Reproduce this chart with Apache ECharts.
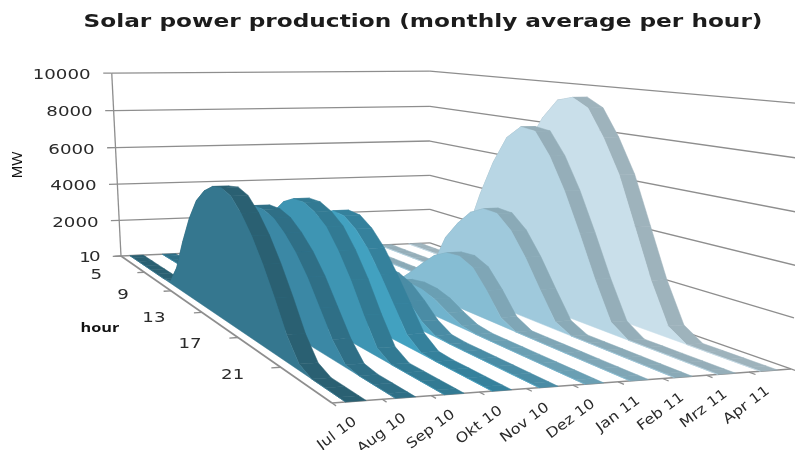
<!DOCTYPE html>
<html>
<head>
<meta charset="utf-8">
<style>html,body{margin:0;padding:0;background:#fff}#chart{width:795px;height:450px}</style>
<script src="https://cdn.jsdelivr.net/npm/echarts@6/dist/echarts.min.js"></script>
</head>
<body>
<div id="chart"></div>
<script>
// Hourly solar output in MW, monthly average, one list per month.
var hours = ['1','2','3','4','5','6','7','8','9','10','11','12','13','14','15','16','17','18','19','20','21','22','23','24'];
var months = ['Jul 10','Aug 10','Sep 10','Okt 10','Nov 10','Dez 10','Jan 11','Feb 11','Mrz 11','Apr 11'];
var valueTicks = [0,2000,4000,6000,8000,10000];
var hourTicks = ['1','5','9','13','17','21'];

var jul10 = [0,0,0,0,0,0,100,1000,2500,3800,4800,5400,5750,5850,5650,5100,4350,3400,2300,1100,250,0,0,0];
var aug10 = [0,0,0,0,0,0,20,1100,2300,3300,4100,4600,4850,4850,4650,4200,3600,2800,1800,800,100,0,0,0];
var sep10 = [0,0,0,0,0,0,0,500,1900,3200,4200,4800,5100,5100,4850,4400,3600,2600,1400,350,0,0,0,0];
var okt10 = [0,0,0,0,0,0,0,100,1200,2500,3500,4200,4500,4450,4050,3400,2500,1500,500,50,0,0,0,0];
var nov10 = [0,0,0,0,0,0,0,0,200,700,1200,1600,1800,1750,1500,1000,400,50,0,0,0,0,0,0];
var dez10 = [0,0,0,0,0,0,0,0,50,350,650,900,1000,950,750,400,100,0,0,0,0,0,0,0];
var jan11 = [0,0,0,0,0,0,0,0,150,750,1400,2000,2350,2400,2100,1300,350,0,0,0,0,0,0,0];
var feb11 = [0,0,0,0,0,0,0,50,900,2400,3300,4000,4350,4300,3700,2700,1500,350,0,0,0,0,0,0];
var mrz11 = [0,0,0,0,0,0,0,400,2500,4500,6200,7500,8100,8000,7000,5600,3900,2100,500,0,0,0,0,0];
var apr11 = [0,0,0,0,0,0,150,1400,3400,5400,7100,8400,9300,9500,9100,7900,6400,4300,2200,500,0,0,0,0];
var production = [jul10,aug10,sep10,okt10,nov10,dez10,jan11,feb11,mrz11,apr11];

var faceColors = ['#35778f','#3b88a5','#3e95b3','#42a1c0','#55abc8','#70b3cd','#86bdd3','#9fc9dc','#b8d6e4','#c9dfea'];
var bandColors = ['#2a6072','#2f6f86','#327a93','#35819c','#4a8ca5','#6a9fb3','#7fa6b6','#8aaab7','#95aeb9','#9eb3bc'];

// Perspective camera of the box: floor homography plus the lift applied per unit of height.
var cam = {a:336.8,b:85.6,c:121,d:2.7,e:-5.2,f:256,g:0.06474,h:-0.3777,ax:-12.5,ay:-185,az:-0.029};
function project(u,v,z){
  var w = cam.g*u + cam.h*v + 1 + cam.az*z;
  return [(cam.a*u + cam.b*v + cam.c + cam.ax*z)/w, (cam.d*u + cam.e*v + cam.f + cam.ay*z)/w];
}
// Hidden cartesian axes carry hour and MW; their pixels are normalised into box coordinates.
function toBox(api,params,hourIndex,value){
  var p = api.coord([hourIndex,value]), s = params.coordSys;
  return {v:(p[0]-s.x)/s.width, z:(s.y+s.height-p[1])/s.height};
}
var ribbonNear = 0.27, ribbonFar = 0.68, lineColor = '#8e8e8e', textColor = '#2a2a2a';

function ribbonSeries(monthIndex){
  var values = production[monthIndex];
  return {
    type:'custom', coordinateSystem:'cartesian2d', clip:false, silent:true,
    data:values.map(function(val,i){return [i,val];}),
    encode:{x:0,y:1},
    renderItem:function(params,api){
      if(params.dataIndex!==0) return null;
      var u0=(monthIndex+ribbonNear)/10, u1=(monthIndex+ribbonFar)/10;
      var line=[{v:0,z:0}];
      values.forEach(function(val,i){line.push(toBox(api,params,i,val));});
      line.push({v:1,z:0});
      var kids=[], i;
      for(i=0;i<line.length-1;i++){
        var q=[project(u0,line[i].v,line[i].z),project(u1,line[i].v,line[i].z),project(u1,line[i+1].v,line[i+1].z),project(u0,line[i+1].v,line[i+1].z)];
        kids.push({type:'polygon',shape:{points:q},style:{fill:bandColors[monthIndex],stroke:bandColors[monthIndex],lineWidth:0.5}});
      }
      var face=line.map(function(p){return project(u0,p.v,p.z);});
      kids.push({type:'polygon',shape:{points:face},style:{fill:faceColors[monthIndex],stroke:faceColors[monthIndex],lineWidth:0.5}});
      return {type:'group',children:kids};
    }
  };
}

function seg(a,b,w){
  return {type:'line',shape:{x1:a[0],y1:a[1],x2:b[0],y2:b[1]},style:{stroke:lineColor,lineWidth:w||1.3,fill:null}};
}
function label(text,p,opt){
  opt=opt||{};
  return {type:'text',x:p[0],y:p[1],rotation:opt.rot||0,scaleX:opt.sx||1,
    style:{text:text,fill:opt.fill||textColor,font:opt.font||'14px "DejaVu Sans"',align:opt.align||'center',verticalAlign:'middle'}};
}

// Walls, floor edges, tick marks and every axis label.
var frameSeries = {
  type:'custom', coordinateSystem:'cartesian2d', clip:false, silent:true, z:1,
  data:valueTicks.map(function(t){return [0,t];}), encode:{x:0,y:1},
  renderItem:function(params,api){
    var z=toBox(api,params,0,api.value(1)).z, kids=[];
    kids.push(seg(project(-0.025,0,z),project(0,0,z)));
    kids.push(seg(project(0,0,z),project(1,0,z)));
    kids.push(seg(project(1,0,z),project(1,1,z)));
    if(params.dataIndex===0){
      kids.push(seg(project(0,0,0),project(0,0,1)));
      kids.push(seg(project(0,0,0),project(0,1,0),1.7));
      kids.push(seg(project(0,1,0),project(1,1,0),1.7));
      months.forEach(function(m,i){kids.push(seg(project(i/10,1,0),project(i/10,1.012,0)));});
      kids.push(seg(project(1,1,0),project(1,1.012,0)));
      hourTicks.forEach(function(h){
        var v=(+h-1)/hours.length;
        kids.push(seg(project(0,v,0),project(-0.02,v,0)));
      });
    }
    return {type:'group',children:kids};
  }
};
var labelSeries = {
  type:'custom', coordinateSystem:'cartesian2d', clip:false, silent:true, z:5,
  data:valueTicks.map(function(t){return [0,t];}), encode:{x:0,y:1},
  renderItem:function(params,api){
    var val=api.value(1), z=toBox(api,params,0,val).z, kids=[], p=project(-0.062,0,z);
    kids.push(label(String(val),[p[0],p[1]+(val===0?0.5:2)],{align:'right',sx:1.3}));
    if(params.dataIndex===0){
      months.forEach(function(m,i){
        var q=project((i+0.5)/10,1,0);
        kids.push(label(m,[q[0]-2,q[1]+19],{align:'right',rot:0.64,sx:1.15,font:'14px "DejaVu Sans"'}));
      });
      hourTicks.forEach(function(h){
        var v=(+h-1)/hours.length, q=project(0,v,0);
        var dx = v===0 ? -36 : -48;
        kids.push(label(h,[q[0]+dx,q[1]+2+7*v],{sx:1.3}));
      });
      kids.push(label('hour',[100,328],{font:'bold 13px "Open Sans"',sx:1.25,fill:'#111'}));
      kids.push(label('MW',[18,165],{font:'15px "Liberation Sans"',rot:Math.PI/2,fill:'#111'}));
    }
    return {type:'group',children:kids};
  }
};

var series=[frameSeries];
for(var m=months.length-1;m>=0;m--){ series.push(Object.assign(ribbonSeries(m),{z:2})); }
series.push(labelSeries);

var chart = echarts.init(document.getElementById('chart'));
chart.setOption({
  animation:false,
  backgroundColor:'#fff',
  graphic:[{type:'text',x:423,y:22,scaleX:1.29,
    style:{text:'Solar power production (monthly average per hour)',font:'bold 18px "DejaVu Sans"',fill:'#1c1c1c',align:'center',verticalAlign:'middle'}}],
  grid:{left:0,top:0,width:240,height:100,show:false},
  xAxis:{type:'category',data:hours,boundaryGap:true,show:false},
  yAxis:{type:'value',min:0,max:10000,interval:2000,show:false},
  series:series
});
</script>
</body>
</html>
